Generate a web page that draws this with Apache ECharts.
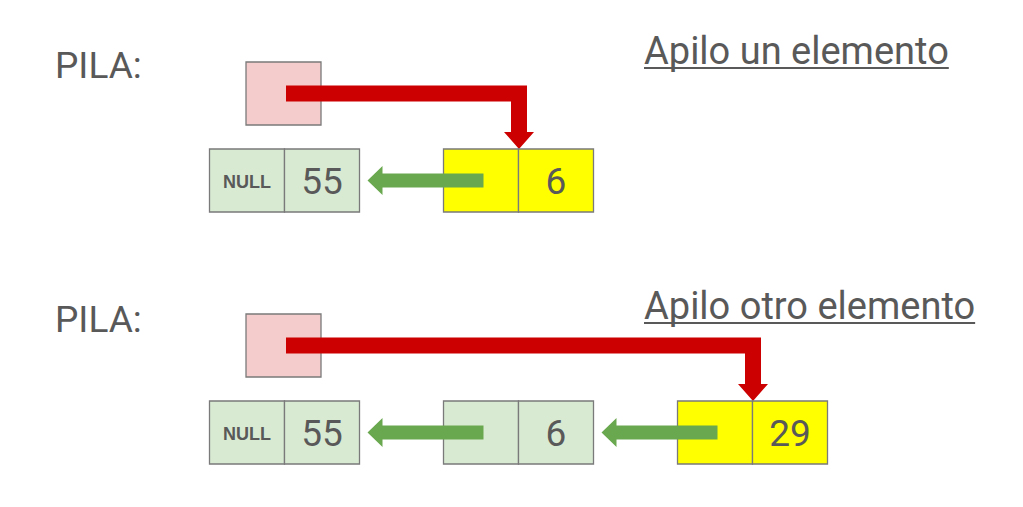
<!DOCTYPE html>
<html>
<head>
<meta charset="utf-8">
<script src="https://cdn.jsdelivr.net/npm/echarts@6/dist/echarts.min.js"></script>
<style>
html,body{margin:0;padding:0;background:#fff;}
#chart{width:1023px;height:507px;}
</style>
</head>
<body>
<div id="chart"></div>
<script>
// ---- data ----
const stackLabel = 'PILA:';
const rowTitles = ['Apilo un elemento', 'Apilo otro elemento'];
const nullLabel = 'NULL';
const row0Values = [55, 6];
const row1Values = [55, 6, 29];
const rows = [row0Values, row1Values];

// ---- layout (axis units == pixels) ----
const W = 1023, H = 507;
const NODE_X0 = 209.5, NODE_DX = 234, NODE_W = 150, NODE_H = 63;
const ROW_Y0 = 149, ROW_DY = 252;
const TEXT = '#595959';
const BORDER = '#7a7a7a';

// node data: [row, slot, value, isTop]
const nodeData = [];
rows.forEach((vals, r) => {
  vals.forEach((v, i) => nodeData.push([r, i, v, i === vals.length - 1 ? 1 : 0]));
});
const rowData = rows.map((vals, r) => [r, vals.length - 1]);

function nodeLeft(slot) { return NODE_X0 + slot * NODE_DX; }
function rowTop(r) { return ROW_Y0 + r * ROW_DY; }

const measureCtx = document.createElement('canvas').getContext('2d');
function textWidth(str, font) { measureCtx.font = font; return measureCtx.measureText(str).width; }

function renderNode(params, api) {
  const r = api.value(0), slot = api.value(1), val = api.value(2), isTop = api.value(3);
  const x0 = nodeLeft(slot), y0 = rowTop(r);
  const p0 = api.coord([x0, y0]);
  const pm = api.coord([x0 + NODE_W / 2, y0 + NODE_H]);
  const p1 = api.coord([x0 + NODE_W, y0 + NODE_H]);
  const fill = isTop ? '#ffff00' : '#d9ead3';
  const children = [
    { type: 'rect', shape: { x: p0[0], y: p0[1], width: pm[0] - p0[0], height: pm[1] - p0[1] },
      style: { fill: fill, stroke: BORDER, lineWidth: 1.3 } },
    { type: 'rect', shape: { x: pm[0], y: p0[1], width: p1[0] - pm[0], height: pm[1] - p0[1] },
      style: { fill: fill, stroke: BORDER, lineWidth: 1.3 } },
    { type: 'text', style: { text: String(val), x: (pm[0] + p1[0]) / 2, y: (p0[1] + p1[1]) / 2 + 1,
      align: 'center', verticalAlign: 'middle', fill: TEXT,
      font: '37px Roboto' } }
  ];
  if (slot === 0) {
    children.push({ type: 'text', style: { text: nullLabel, x: (p0[0] + pm[0]) / 2, y: (p0[1] + p1[1]) / 2 + 1,
      align: 'center', verticalAlign: 'middle', fill: TEXT,
      font: 'bold 18px "Liberation Sans", Arial, sans-serif' } });
  } else {
    // green arrow to previous node
    const yc = y0 + 31.5;
    const xs = x0 + 40;
    const tip = nodeLeft(slot - 1) + NODE_W + 8;
    const pts = [[xs, yc - 7], [tip + 15, yc - 7], [tip + 15, yc - 14.5], [tip, yc],
                 [tip + 15, yc + 14.5], [tip + 15, yc + 7], [xs, yc + 7]].map(p => api.coord(p));
    children.push({ type: 'polygon', shape: { points: pts }, style: { fill: '#6aa84f' } });
  }
  return { type: 'group', children: children };
}

function renderRow(params, api) {
  const r = api.value(0), topSlot = api.value(1);
  const y0 = rowTop(r);
  const children = [];
  // PILA label
  const pl = api.coord([55, 65 + r * 254]);
  children.push({ type: 'text', style: { text: stackLabel, x: pl[0], y: pl[1], align: 'left',
    verticalAlign: 'middle', fill: TEXT, font: '37px Roboto' } });
  // title with underline
  const titleFont = '38px Roboto';
  const tp = api.coord([644, r === 0 ? 51 : 306]);
  const tw = textWidth(rowTitles[r], titleFont);
  children.push({ type: 'text', style: { text: rowTitles[r], x: tp[0], y: tp[1], align: 'left',
    verticalAlign: 'middle', fill: TEXT, font: titleFont } });
  const ul = api.coord([644, r === 0 ? 68 : 323]);
  children.push({ type: 'line', shape: { x1: ul[0], y1: ul[1], x2: ul[0] + tw, y2: ul[1] },
    style: { stroke: TEXT, lineWidth: 2.2 } });
  // pointer box
  const b0 = api.coord([246, y0 - 87]);
  const b1 = api.coord([321, y0 - 24]);
  children.push({ type: 'rect', shape: { x: b0[0], y: b0[1], width: b1[0] - b0[0], height: b1[1] - b0[1] },
    style: { fill: '#f4cccc', stroke: BORDER, lineWidth: 1.3 } });
  // red arrow
  const yc = y0 - 55.5;
  const xv = nodeLeft(topSlot) + NODE_W / 2 + 0.5;
  const headTop = y0 - 17;
  const pts = [[286, yc - 8], [xv + 8, yc - 8], [xv + 8, headTop], [xv + 15, headTop], [xv, y0],
               [xv - 15, headTop], [xv - 8, headTop], [xv - 8, yc + 8], [286, yc + 8]].map(p => api.coord(p));
  children.push({ type: 'polygon', shape: { points: pts }, style: { fill: '#cc0000' } });
  return { type: 'group', children: children };
}

const chart = echarts.init(document.getElementById('chart'), null, { renderer: 'svg' });
chart.setOption({
  backgroundColor: '#ffffff',
  animation: false,
  grid: { left: 0, right: 0, top: 0, bottom: 0, containLabel: false },
  xAxis: { type: 'value', min: 0, max: W, show: false },
  yAxis: { type: 'value', min: 0, max: H, inverse: true, show: false },
  series: [
    { type: 'custom', name: 'filas', renderItem: renderRow, data: rowData, silent: true, z: 2 },
    { type: 'custom', name: 'nodos', renderItem: renderNode, data: nodeData, silent: true, z: 3 }
  ]
});
</script>
</body>
</html>
